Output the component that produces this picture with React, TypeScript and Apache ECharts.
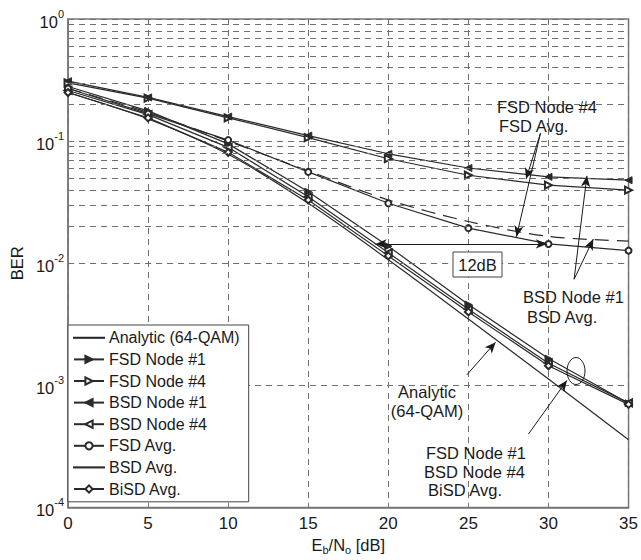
import React, { useEffect, useRef } from "react";
import * as echarts from "echarts";

const snr = [0, 5, 10, 15, 20, 25, 30, 35];
const analytic = [0.25, 0.152, 0.078, 0.031, 0.0107, 0.0035, 0.00113, 0.00036];
const fsdNode1 = [0.28, 0.177, 0.095, 0.0385, 0.0138, 0.0046, 0.00166, 0.000715];
const fsdNode4 = [0.3, 0.225, 0.155, 0.107, 0.0718, 0.0526, 0.0436, 0.0397];
const bsdNode1 = [0.31, 0.228, 0.159, 0.111, 0.0788, 0.0603, 0.051, 0.0479];
const bsdNode4 = [0.26, 0.165, 0.089, 0.035, 0.0122, 0.0042, 0.00152, 0.00072];
const fsdAvg = [0.27, 0.168, 0.102, 0.056, 0.031, 0.0194, 0.0144, 0.0127];
const bsdAvg = [0.27, 0.172, 0.1, 0.057, 0.033, 0.022, 0.0166, 0.0152];
const bisdAvg = [0.25, 0.155, 0.081, 0.033, 0.0115, 0.004, 0.00145, 0.0007];

const decades = [1e-4, 1e-3, 1e-2, 1e-1];
const minorSteps = [2, 3, 4, 5, 6, 7, 8, 9];

const arrowLines = [
  [[29.5, 0.116], [28.6, 0.049]],
  [[29.5, 0.116], [28.0, 0.0165]],
  [[31.6, 0.0074], [32.4, 0.052]],
  [[31.6, 0.0074], [32.8, 0.0158]],
  [[24.9, 0.00122], [26.7, 0.00226]],
  [[28.75, 0.0004], [31.15, 0.0011]],
];
const span12dB = [[19.2, 0.0144], [29.9, 0.0144]];

const FONT = "'Liberation Sans', Arial, Helvetica, sans-serif";
const INK = "#1a1a1a";
const LINE = "#2a2a2a";
const GRID = "#6f6f6f";
const PLAIN_ICON = "path://M0,0H30V0.1H0Z";

export default function App() {
  const ref = useRef<HTMLDivElement>(null);
  useEffect(() => {
    if (!ref.current) return;
    const chart = echarts.init(ref.current, undefined, { renderer: "svg" });
    const pts = (arr: number[]) => snr.map((x, i) => [x, arr[i]]);
    const minorGrid: number[] = [];
    decades.forEach((d) => minorSteps.forEach((m) => minorGrid.push(d * m)));

    const mk = (name: string, arr: number[], symbol: string, rot = 0, extra: any = {}) => ({
      name,
      type: "line",
      data: pts(arr),
      symbol,
      symbolSize: 7,
      symbolRotate: rot,
      showSymbol: symbol !== "none",
      z: 4,
      color: LINE,
      lineStyle: { color: LINE, width: 1.2 },
      itemStyle: { color: LINE, borderColor: LINE, borderWidth: 1 },
      ...extra,
    });

    const textEl = (text: string, x: number, y: number, align = "left") => ({
      type: "text",
      x,
      y,
      z: 20,
      style: {
        text,
        fill: INK,
        fontSize: 16.5,
        fontFamily: FONT,
        align,
        verticalAlign: "middle",
      },
    });

    chart.setOption({
      animation: false,
      backgroundColor: "#fff",
      textStyle: { fontFamily: FONT },
      grid: {
        left: 61,
        right: 9,
        top: 19,
        bottom: 48,
        show: true,
        borderColor: "#777",
        borderWidth: 1.5,
        backgroundColor: "#fff",
      },
      xAxis: {
        type: "value",
        min: 0,
        max: 35,
        interval: 5,
        name: "{n|E}{s|b}{n|/N}{s|o}{n| [dB]}",
        nameLocation: "middle",
        nameGap: 22,
        nameTextStyle: {
          rich: {
            n: { fontSize: 16.5, fontFamily: FONT, color: INK, lineHeight: 20 },
            s: { fontSize: 11, fontFamily: FONT, color: INK, lineHeight: 10, verticalAlign: "bottom" },
          },
        },
        axisLine: { show: true, lineStyle: { color: "#777", width: 1.5 } },
        axisTick: { show: true, inside: true, length: 5, lineStyle: { color: "#777" } },
        axisLabel: { fontSize: 17, color: INK, margin: 7, fontFamily: FONT },
        splitLine: { show: true, lineStyle: { color: GRID, type: [6, 5], width: 1 } },
      },
      yAxis: {
        type: "log",
        logBase: 10,
        min: 1e-4,
        max: 1,
        name: "BER",
        nameLocation: "middle",
        nameGap: 43,
        nameRotate: 90,
        nameTextStyle: { fontSize: 16.5, color: INK, fontFamily: FONT },
        axisLine: { show: true, lineStyle: { color: "#777", width: 1.5 } },
        axisTick: { show: true, inside: true, length: 5, lineStyle: { color: "#777" } },
        axisLabel: {
          margin: 4,
          formatter: (v: number) => `{b|10}{e|${Math.round(Math.log10(v))}}`,
          rich: {
            b: { fontSize: 16.5, fontFamily: FONT, color: INK, lineHeight: 22, padding: [8, 0, 0, 0], verticalAlign: "bottom" },
            e: { fontSize: 11, fontFamily: FONT, color: INK, lineHeight: 12, verticalAlign: "top" },
          },
        },
        splitLine: { show: true, lineStyle: { color: GRID, type: [6, 5], width: 1 } },
      },
      legend: {
        orient: "vertical",
        left: 68,
        top: 325,
        itemWidth: 30,
        itemHeight: 9,
        itemGap: 2,
        padding: [3, 9, 3, 5],
        backgroundColor: "#fff",
        borderColor: "#444",
        borderWidth: 1,
        selectedMode: false,
        z: 30,
        textStyle: { fontSize: 16, lineHeight: 19.6, color: INK, fontFamily: FONT },
        data: [
          { name: "Analytic (64-QAM)", icon: PLAIN_ICON },
          "FSD Node #1",
          "FSD Node #4",
          "BSD Node #1",
          "BSD Node #4",
          "FSD Avg.",
          { name: "BSD Avg.", icon: PLAIN_ICON },
          "BiSD Avg.",
        ],
      },
      series: [
        {
          name: "_grid",
          type: "line",
          data: [],
          silent: true,
          z: 1,
          markLine: {
            silent: true,
            symbol: "none",
            label: { show: false },
            lineStyle: { color: GRID, type: [6, 5], width: 1 },
            data: minorGrid.map((v) => ({ yAxis: v })),
          },
        },
        mk("Analytic (64-QAM)", analytic, "none", 0, { smooth: 0.3 }),
        mk("FSD Node #1", fsdNode1, "triangle", -90),
        mk("FSD Node #4", fsdNode4, "emptyTriangle", -90),
        mk("BSD Node #1", bsdNode1, "triangle", 90),
        mk("BSD Node #4", bsdNode4, "emptyTriangle", 90),
        mk("FSD Avg.", fsdAvg, "emptyCircle", 0, { symbolSize: 6 }),
        mk("BSD Avg.", bsdAvg, "none", 0, { smooth: 0.3, lineStyle: { color: LINE, width: 1.2, type: [14, 8] } }),
        mk("BiSD Avg.", bisdAvg, "emptyDiamond", 0),
        {
          name: "_annot",
          type: "line",
          data: [],
          silent: true,
          z: 6,
          markLine: {
            silent: true,
            symbol: ["none", "arrow"],
            symbolSize: [7, 11],
            label: { show: false },
            lineStyle: { color: INK, type: "solid", width: 1 },
            data: [
              ...arrowLines.map(([a, b]) => [{ coord: a }, { coord: b }]),
              [
                { coord: span12dB[0], symbol: "arrow" },
                { coord: span12dB[1], symbol: "arrow" },
              ],
            ],
          },
        },
      ],
      graphic: [
        textEl("FSD Node #4", 497, 107),
        textEl("FSD Avg.", 499, 126),
        textEl("BSD Node #1", 523, 297),
        textEl("BSD Avg.", 527, 317),
        textEl("Analytic", 427, 392, "center"),
        textEl("(64-QAM)", 427, 411, "center"),
        textEl("FSD Node #1", 426, 453),
        textEl("BSD Node #4", 424, 472),
        textEl("BiSD Avg.", 428, 490),
        {
          type: "rect",
          z: 19,
          shape: { x: 453, y: 252, width: 49, height: 25 },
          style: { fill: "#fff", stroke: "#444", lineWidth: 1 },
        },
        textEl("12dB", 477.5, 265, "center"),
        {
          type: "ellipse",
          z: 19,
          shape: { cx: 576, cy: 371, rx: 9, ry: 13.5 },
          style: { fill: "none", stroke: INK, lineWidth: 1 },
        },
      ],
    });
    return () => chart.dispose();
  }, []);
  return (
    <div
      ref={ref}
      style={{ position: "absolute", left: 0, top: 0, width: 641, height: 560 }}
    />
  );
}
